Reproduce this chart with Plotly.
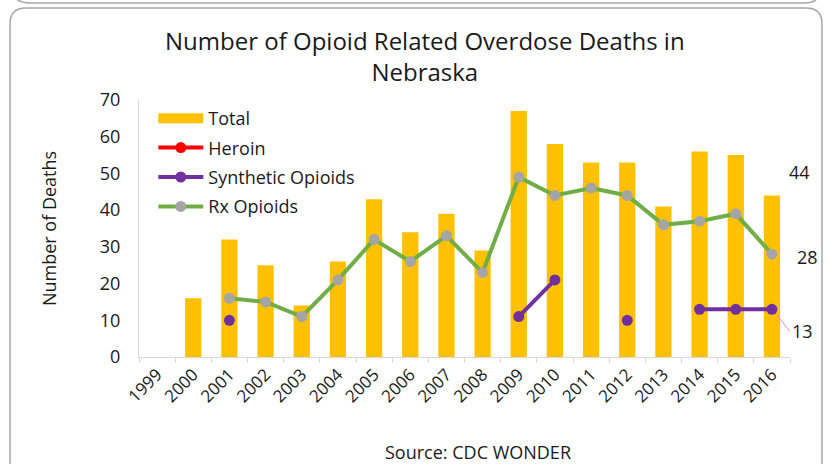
import plotly.graph_objects as go

years = list(range(1999, 2017))
year_labels = [str(y) for y in years]
total = [None, 16, 32, 25, 14, 26, 43, 34, 39, 29, 67, 58, 53, 53, 41, 56, 55, 44]
heroin = [None] * 18
synthetic = [None, None, 10, None, None, None, None, None, None, None, 11, 21, None, 10, None, 13, 13, 13]
rx = [None, None, 16, 15, 11, 21, 32, 26, 33, 23, 49, 44, 46, 44, 36, 37, 39, 28]

FONT = "Open Sans"
BAR = "#FFC000"
fig = go.Figure()
fig.add_trace(go.Bar(x=years, y=total, name="Total", marker_color=BAR,
                     marker_line_width=0, width=0.45, showlegend=False))
# legend proxy for the bar series (wide swatch like the original)
fig.add_trace(go.Scatter(x=[None], y=[None], name="Total", mode="lines",
                         line=dict(color=BAR, width=12), legendgroup="a"))
fig.add_trace(go.Scatter(x=years, y=heroin, name="Heroin", mode="lines+markers",
                         line=dict(color="#FF0000", width=4), legendgroup="b",
                         marker=dict(color="#FF0000", size=11)))
fig.add_trace(go.Scatter(x=years, y=synthetic, name="Synthetic Opioids", mode="lines+markers",
                         line=dict(color="#7030A0", width=4), legendgroup="c",
                         marker=dict(color="#7030A0", size=11)))
fig.add_trace(go.Scatter(x=years, y=rx, name="Rx Opioids", mode="lines+markers",
                         line=dict(color="#70AD47", width=4), legendgroup="d",
                         marker=dict(color="#A5A5A5", size=11)))

L, R, T, B = 139, 43, 100, 107
PW, PH = 833 - L - R, 464 - T - B

def px(xp):
    return (xp - L) / PW

def py(yp):
    return (464 - B - yp) / PH

x0, x1, y0, y1 = px(10), px(822), py(8), py(470)
rx_, ry_ = 16 / PW, 16 / PH
box = (f"M {x0:.5f},{y1:.5f} L {x0:.5f},{y0-ry_:.5f} Q {x0:.5f},{y0:.5f} {x0+rx_:.5f},{y0:.5f} "
       f"L {x1-rx_:.5f},{y0:.5f} Q {x1:.5f},{y0:.5f} {x1:.5f},{y0-ry_:.5f} L {x1:.5f},{y1:.5f}")
top = (f"M {px(12):.5f},{py(-12):.5f} Q {px(13):.5f},{py(3):.5f} {px(30):.5f},{py(3):.5f} "
       f"L {px(805):.5f},{py(3):.5f} Q {px(820):.5f},{py(3):.5f} {px(821):.5f},{py(-12):.5f}")

fig.update_layout(
    width=833, height=464,
    margin=dict(l=L, r=R, t=T, b=B),
    paper_bgcolor="white", plot_bgcolor="white",
    title=dict(text="Number of Opioid Related Overdose Deaths in<br>Nebraska",
               x=0.51, xanchor="center", y=0.893, yanchor="top",
               font=dict(family=FONT, size=24, color="#1a1a1a")),
    font=dict(family=FONT, color="#1a1a1a"),
    legend=dict(x=0.022, y=1.0, xanchor="left", yanchor="top",
                bgcolor="rgba(0,0,0,0)", font=dict(family=FONT, size=18),
                traceorder="grouped", tracegroupgap=3, itemwidth=45),
    xaxis=dict(range=[1998.5, 2016.5], tickmode="array", tickvals=years,
               ticktext=year_labels, tickangle=-45,
               tickfont=dict(family=FONT, size=17),
               showline=True, linecolor="#D9D9D9", linewidth=1,
               ticks="", showgrid=False, zeroline=False,
               minor=dict(ticks="outside", tick0=1998.5, dtick=1, ticklen=5,
                          tickcolor="#D9D9D9", showgrid=False)),
    yaxis=dict(range=[0, 70], dtick=10, tickfont=dict(family=FONT, size=18),
               showline=True, linecolor="#D9D9D9", linewidth=1, showgrid=False,
               zeroline=False, ticks="", ticklabelstandoff=14,
               title=dict(text="Number of Deaths", font=dict(family=FONT, size=18),
                          standoff=38)),
    shapes=[
        dict(type="path", xref="paper", yref="paper", path=box,
             line=dict(color="#A6A6A6", width=1.5)),
        dict(type="path", xref="paper", yref="paper", path=top,
             line=dict(color="#A6A6A6", width=1.5)),
    ],
    annotations=[
        dict(x=2016, y=50.5, text="44", showarrow=False, xshift=28,
             font=dict(family=FONT, size=18)),
        dict(x=2016, y=27.3, text="28", showarrow=False, xshift=36,
             font=dict(family=FONT, size=18)),
        dict(x=2016, y=13, ax=18, ay=22, text="13", showarrow=True,
             arrowhead=0, arrowcolor="#D98CD9", arrowwidth=1, standoff=8,
             font=dict(family=FONT, size=18), xanchor="left"),
        dict(x=px(478), y=py(452), xref="paper", yref="paper", text="Source: CDC WONDER",
             showarrow=False, yanchor="middle", font=dict(family=FONT, size=18)),
    ],
)

fig.write_html("out.html")
